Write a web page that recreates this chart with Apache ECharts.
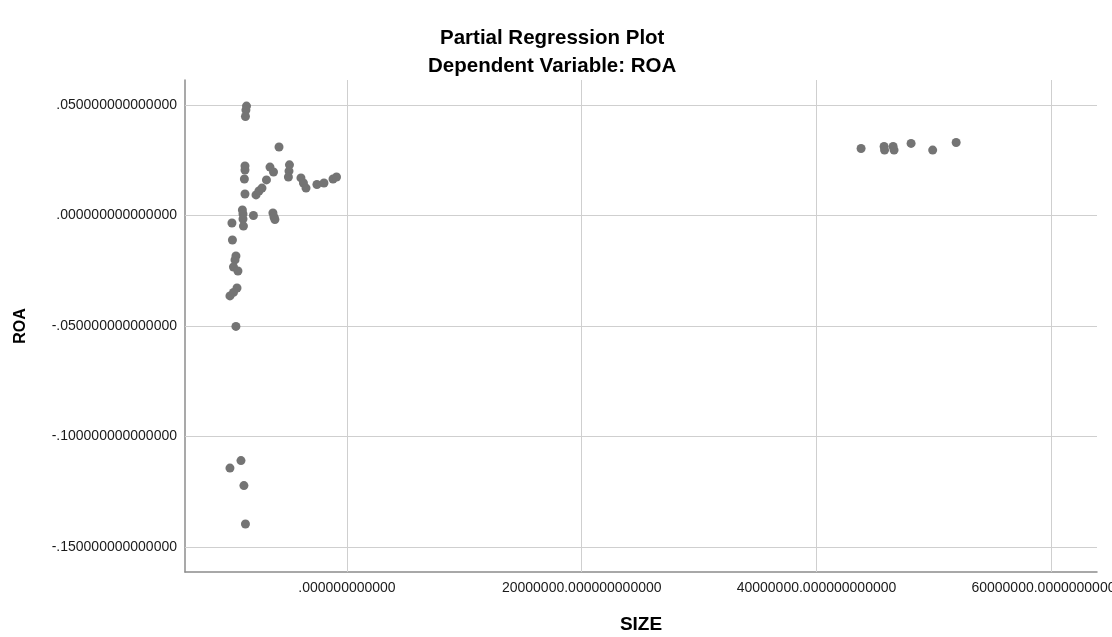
<!DOCTYPE html>
<html>
<head>
<meta charset="utf-8">
<script src="https://cdn.jsdelivr.net/npm/echarts@6/dist/echarts.min.js"></script>
<style>html,body{margin:0;padding:0;background:#fff}#c{width:1112px;height:637px}</style>
</head>
<body>
<div id="c"></div>
<script>
// SIZE values (raw units) and ROA values
const sizeValues = [
  -8.56e6, -8.61e6, -8.65e6, -5.79e6, -8.69e6, -8.69e6, -8.74e6, -8.69e6,
  -7.75e6, -7.50e6, -7.24e6, -6.86e6, -6.56e6, -6.26e6, -4.90e6, -4.94e6,
  -4.99e6, -3.92e6, -3.71e6, -3.49e6, -2.56e6, -1.96e6, -1.19e6, -0.89e6,
  -8.91e6, -8.86e6, -8.86e6, -8.82e6, -7.97e6, -6.31e6, -6.22e6, -6.14e6,
  -9.80e6, -9.76e6, -9.46e6, -9.54e6, -9.67e6, -9.29e6, -9.37e6, -9.67e6,
  -9.97e6, -9.46e6,
  -9.03e6, -9.97e6, -8.78e6, -8.65e6,
  43.80e6, 45.76e6, 45.80e6, 46.53e6, 46.61e6, 48.06e6, 49.90e6, 51.90e6
];
const roaValues = [
  0.0495, 0.0477, 0.0448, 0.0310, 0.0224, 0.0206, 0.0165, 0.0097,
  0.0093, 0.0111, 0.0124, 0.0161, 0.0219, 0.0197, 0.0229, 0.0201,
  0.0174, 0.0170, 0.0147, 0.0124, 0.0140, 0.0147, 0.0165, 0.0174,
  0.0025, 0.0007, -0.0016, -0.0048, 0.0000, 0.0011, -0.0007, -0.0018,
  -0.0034, -0.0111, -0.0183, -0.0201, -0.0233, -0.0251, -0.0328, -0.0348,
  -0.0364, -0.0502,
  -0.1109, -0.1143, -0.1222, -0.1396,
  0.0303, 0.0312, 0.0296, 0.0312, 0.0296, 0.0326, 0.0296, 0.0330
];
const xTicks = [0, 20000000, 40000000, 60000000];
const yTicks = [-0.15, -0.10, -0.05, 0, 0.05];

function stripZero(s) {
  return s.replace(/^(-?)0\./, '$1.');
}
const points = sizeValues.map((x, i) => [x, roaValues[i]]);
const gridLines = xTicks.map(v => ({ xAxis: v })).concat(yTicks.map(v => ({ yAxis: v })));

const FONT = 'Liberation Sans';
const chart = echarts.init(document.getElementById('c'), null, { renderer: 'canvas' });
chart.setOption({
  animation: false,
  backgroundColor: '#ffffff',
  textStyle: { fontFamily: FONT },
  title: [
    { text: 'Partial Regression Plot', left: 440, top: 28, padding: 0,
      textStyle: { fontFamily: FONT, fontSize: 20.5, fontWeight: 'bold', color: '#000' } },
    { text: 'Dependent Variable: ROA', left: 428, top: 56, padding: 0,
      textStyle: { fontFamily: FONT, fontSize: 20.5, fontWeight: 'bold', color: '#000' } }
  ],
  grid: { left: 185, right: 15, top: 80, bottom: 65, containLabel: false, outerBoundsMode: 'none' },
  xAxis: {
    type: 'value', min: -13.8e6, max: 63.9e6,
    name: 'SIZE', nameLocation: 'middle', nameGap: 43,
    nameTextStyle: { fontFamily: FONT, fontSize: 19, fontWeight: 'bold', color: '#000' },
    axisLine: { show: true, onZero: false, lineStyle: { color: '#8c8c8c', width: 1.5 } },
    axisTick: { show: false },
    splitLine: { show: false },
    axisLabel: {
      customValues: xTicks, margin: 9, fontFamily: FONT, fontSize: 14, color: '#1a1a1a',
      hideOverlap: false,
      formatter: v => stripZero(Number(v).toFixed(12))
    }
  },
  yAxis: {
    type: 'value', min: -0.1613, max: 0.0613,
    name: 'ROA', nameLocation: 'middle', nameGap: 156, nameRotate: 90,
    nameTextStyle: { fontFamily: FONT, fontSize: 16, fontWeight: 'bold', color: '#000' },
    axisLine: { show: true, onZero: false, lineStyle: { color: '#8c8c8c', width: 1.5 } },
    axisTick: { show: false },
    splitLine: { show: false },
    axisLabel: {
      customValues: yTicks, margin: 8, fontFamily: FONT, fontSize: 14, color: '#1a1a1a',
      formatter: v => stripZero(Number(v).toFixed(15))
    }
  },
  series: [
    {
      type: 'scatter', data: [], z: 1, silent: true,
      markLine: {
        silent: true, symbol: 'none', animation: false,
        label: { show: false },
        lineStyle: { color: '#cfcfcf', width: 1, type: 'solid' },
        data: gridLines
      }
    },
    {
      type: 'scatter', data: points, z: 5,
      symbol: 'circle', symbolSize: 9,
      itemStyle: { color: '#747474', opacity: 1 }
    }
  ]
});
</script>
</body>
</html>
